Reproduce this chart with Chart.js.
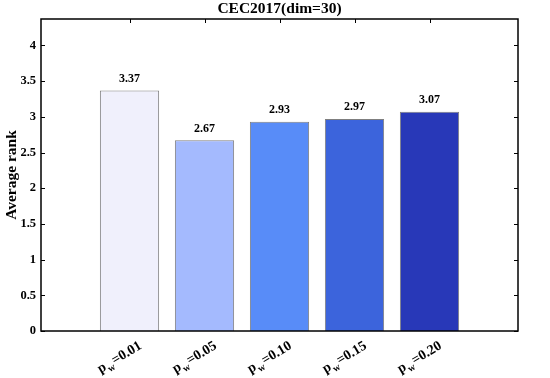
<!DOCTYPE html>
<html>
<head>
<meta charset="utf-8">
<script src="https://cdn.jsdelivr.net/npm/chart.js@4/dist/chart.umd.min.js"></script>
<style>
html,body{margin:0;padding:0;background:#fff;}
#wrap{width:550px;height:378px;}
</style>
</head>
<body>
<div id="wrap"><canvas id="c" width="550" height="378"></canvas></div>
<script>
const categories = ["0.01", "0.05", "0.10", "0.15", "0.20"];
const averageRank = [3.37, 2.67, 2.93, 2.97, 3.07];
const valueLabels = ["3.37", "2.67", "2.93", "2.97", "3.07"];
const barColors = ["#F0F0FC", "#A4BAFE", "#588CF8", "#3C64DC", "#2838B8"];
const yTicks = [0, 0.5, 1, 1.5, 2, 2.5, 3, 3.5, 4];
const xPositions = [1, 2, 3, 4, 5];

const FONT = "'Liberation Serif', 'Times New Roman', serif";

const decorPlugin = {
  id: 'decor',
  afterDatasetsDraw(chart) {
    const ctx = chart.ctx;
    const a = chart.chartArea;
    const xs = chart.scales.x, ys = chart.scales.y;
    ctx.save();
    // value labels
    ctx.fillStyle = '#000';
    ctx.font = "bold 12px " + FONT;
    ctx.textAlign = 'center';
    ctx.textBaseline = 'alphabetic';
    averageRank.forEach((v, i) => {
      const x = xs.getPixelForValue(xPositions[i]);
      const y = ys.getPixelForValue(v);
      ctx.fillText(valueLabels[i], x, y - 8.5);
    });
    // frame
    ctx.strokeStyle = '#000';
    ctx.lineWidth = 1.5;
    ctx.strokeRect(a.left, a.top, a.right - a.left, a.bottom - a.top);
    // ticks
    ctx.lineWidth = 1;
    ctx.beginPath();
    yTicks.forEach(v => {
      const y = Math.round(ys.getPixelForValue(v)) + 0.5;
      ctx.moveTo(a.left, y); ctx.lineTo(a.left + 4, y);
      ctx.moveTo(a.right, y); ctx.lineTo(a.right - 4, y);
    });
    xPositions.forEach(p => {
      const x = Math.round(xs.getPixelForValue(p)) + 0.5;
      ctx.moveTo(x, a.top); ctx.lineTo(x, a.top + 4);
    });
    ctx.stroke();
    // x tick labels p_w=...
    const ang = -31 * Math.PI / 180;
    categories.forEach((c, i) => {
      const x = xs.getPixelForValue(xPositions[i]);
      ctx.save();
      ctx.translate(x + 13, a.bottom + 17);
      ctx.rotate(ang);
      ctx.textAlign = 'left';
      ctx.textBaseline = 'alphabetic';
      const fMain = "bold 14px " + FONT;
      const fSub = "bold 10px " + FONT;
      ctx.font = fMain;
      const wP = ctx.measureText('p').width;
      const wRest = ctx.measureText('=' + c).width;
      ctx.font = fSub;
      const wW = ctx.measureText('w').width;
      const total = wP + wW + 1.5 + wRest;
      let cx = -total;
      ctx.font = fMain;
      ctx.fillText('p', cx, 0); cx += wP;
      ctx.font = fSub;
      ctx.fillText('w', cx + 1, 4); cx += wW + 1.5;
      ctx.font = fMain;
      ctx.fillText('=' + c, cx, 0);
      ctx.restore();
    });
    ctx.restore();
  }
};

new Chart(document.getElementById('c'), {
  type: 'bar',
  data: {
    datasets: [{
      data: xPositions.map((p, i) => ({ x: p, y: averageRank[i] })),
      backgroundColor: barColors,
      borderColor: '#7F7F7F',
      borderWidth: 1,
      borderSkipped: 'bottom',
      barPercentage: 0.79,
      categoryPercentage: 1
    }]
  },
  options: {
    responsive: false,
    animation: false,
    devicePixelRatio: 1,
    layout: { padding: { left: 0, right: 32, top: 0, bottom: 47 } },
    plugins: {
      legend: { display: false },
      tooltip: { enabled: false },
      title: {
        display: true,
        text: 'CEC2017(dim=30)',
        color: '#000',
        fullSize: false,
        font: { family: FONT, size: 15.5, weight: 'bold', lineHeight: 1.2 },
        padding: { top: 0, bottom: 0.4 }
      }
    },
    scales: {
      x: {
        type: 'linear',
        display: false,
        offset: false,
        min: -0.18,
        max: 6.18
      },
      y: {
        type: 'linear',
        min: 0,
        max: 4.37,
        afterBuildTicks: (scale) => { scale.ticks = yTicks.map(v => ({ value: v })); },
        afterFit: (scale) => { scale.width = 41; },
        grid: { display: false, drawTicks: false },
        border: { display: false },
        ticks: {
          color: '#000',
          padding: 5,
          font: { family: FONT, size: 12.5, weight: 'bold' },
          callback: (v) => String(v)
        },
        title: {
          display: true,
          text: 'Average rank',
          color: '#000',
          font: { family: FONT, size: 15.5, weight: 'bold', lineHeight: 1.2 },
          padding: { top: 3, bottom: 0 }
        }
      }
    }
  },
  plugins: [decorPlugin]
});
</script>
</body>
</html>
